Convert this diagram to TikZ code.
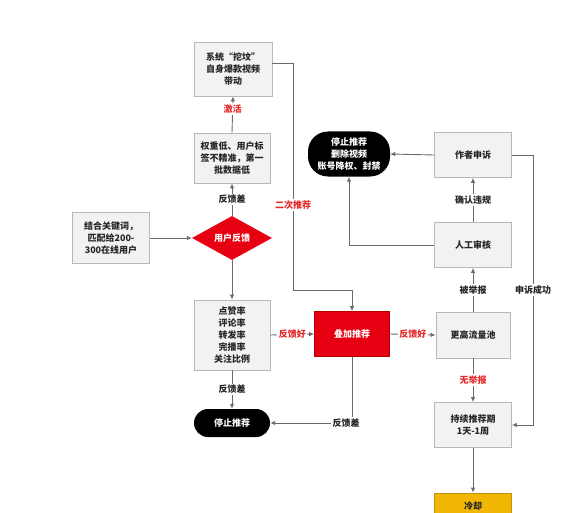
\documentclass[tikz,border=0pt]{standalone}
\usepackage{fontspec}
\setmainfont{Noto Sans CJK SC}
\usepackage{tikz}
\usetikzlibrary{arrows.meta,shapes.geometric}
\definecolor{lineg}{HTML}{6B6B6B}
\definecolor{boxg}{HTML}{F2F2F2}
\definecolor{boxline}{HTML}{B8B8B8}
\definecolor{hotred}{HTML}{E60012}
\definecolor{labred}{HTML}{E52828}
\definecolor{gold}{HTML}{F2B705}
\tikzset{
  txt/.style={font=\fontsize{9}{12}\selectfont\bfseries, text=black!85},
  box/.style={txt, draw=boxline, fill=boxg, line width=0.8pt, align=center, inner sep=2pt},
  redbox/.style={box, draw=red!70!black, fill=hotred, text=white},
  pill/.style={txt, fill=black, text=white, align=center, inner sep=2pt},
  lbl/.style={txt, fill=white, inner sep=1.5pt},
  redlbl/.style={lbl, text=labred},
  conn/.style={draw=lineg, line width=0.9pt, -{Latex[length=5pt,width=4.5pt]}},
}
\begin{document}
\begin{tikzpicture}[x=1pt,y=-1pt]
\useasboundingbox (0,0) rectangle (580,513);
\clip (0,0) rectangle (580,513);
% left column
\node[box, minimum width=78pt, minimum height=54pt] (sys) at (233,69) {系统“挖坟”\\自身爆款视频\\带动};
\node[box, minimum width=76pt, minimum height=50pt] (low) at (232,158) {权重低、用户标\\签不精准，第一\\批数据低};
\node[txt, diamond, aspect=1.8, fill=hotred, text=white, minimum width=80pt, minimum height=44pt, inner sep=0pt] (fb) at (232,238) {用户反馈};
\node[box, minimum width=77pt, minimum height=51pt] (kw) at (111,238) {结合关键词，\\匹配给200-\\300在线用户};
\node[box, minimum width=76pt, minimum height=70pt] (rate) at (232,335) {点赞率\\评论率\\转发率\\完播率\\关注比例};
\node[pill, rounded corners=14pt, minimum width=76pt, minimum height=28pt] (stop1) at (232,423) {停止推荐};
% middle
\node[redbox, minimum width=75pt, minimum height=45pt] (boost) at (352,334) {叠加推荐};
\node[pill, rounded corners=20pt, minimum width=82pt, minimum height=45pt] (stop2) at (349,154) {停止推荐\\删除视频\\账号降权、封禁};
% right column
\node[box, minimum width=77pt, minimum height=45pt] (appeal) at (473,155) {作者申诉};
\node[box, minimum width=77pt, minimum height=45pt] (review) at (473,245) {人工审核};
\node[box, minimum width=74pt, minimum height=46pt] (pool) at (473,335) {更高流量池};
\node[box, minimum width=77pt, minimum height=45pt] (keep) at (473,425) {持续推荐期\\1天-1周};
\node[box, draw=gold!80!black, fill=gold, minimum width=77pt, minimum height=26pt] (cool) at (473,506) {冷却};
\coordinate (c1) at (293,290);
\coordinate (c2) at (533,155);

% connectors
\draw[conn] (low.north) -- node[redlbl, pos=0.65] {激活} (sys.south);
\draw[conn] (fb.north) -- node[lbl] {反馈差} (low.south);
\draw[conn] (kw.east) -- (fb.west);
\draw[conn] (fb.south) -- (rate.north);
\draw[conn] (rate.east) -- node[redlbl] {反馈好} (boost.west);
\draw[conn] (boost.east) -- node[redlbl] {反馈好} (pool.west);
\draw[conn] (rate.south) -- node[lbl] {反馈差} (stop1.north);
\draw[conn] (boost.south) |- node[lbl, pos=0.5, xshift=-6pt] {反馈差} (stop1.east);
\draw[conn] ([yshift=6pt]sys.east) -| (c1) -| (boost.north);
\node[redlbl] (second) at (293,205) {二次推荐};
\draw[conn] (appeal.west) -- (stop2.east);
\draw[conn] (review.north) -- node[lbl] {确认违规} (appeal.south);
\draw[conn] (review.west) -| (stop2.south);
\draw[conn] (pool.north) -- node[lbl] {被举报} (review.south);
\draw[conn] (appeal.east) -- (c2) |- node[lbl, pos=0.25] {申诉成功} (keep.east);
\draw[conn] (pool.south) -- node[redlbl] {无举报} (keep.north);
\draw[conn] (keep.south) -- (cool.north);
\end{tikzpicture}
\end{document}
